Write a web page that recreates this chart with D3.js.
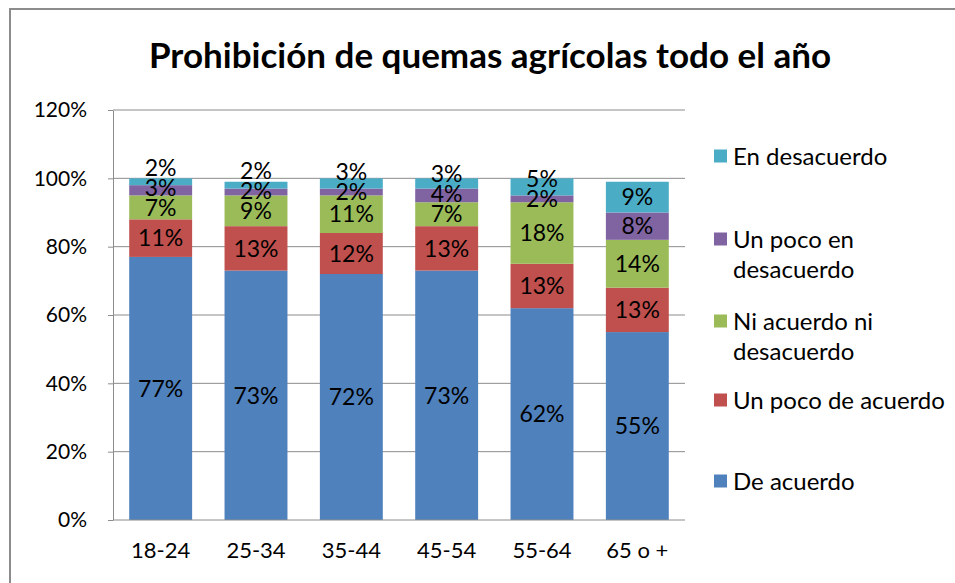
<!DOCTYPE html>
<html>
<head>
<meta charset="utf-8">
<script src="https://cdn.jsdelivr.net/npm/d3@7/dist/d3.min.js"></script>
<style>
  html, body { margin: 0; padding: 0; background: #fff; }
  svg { display: block; font-family: Lato, "Open Sans", sans-serif; }
</style>
</head>
<body>
<svg id="chart" width="955" height="583"></svg>
<script>
// Age groups on the x axis
const categories = ["18-24", "25-34", "35-44", "45-54", "55-64", "65 o +"];

// Share of respondents (%) per answer, stacked bottom to top
const deAcuerdo        = [77, 73, 72, 73, 62, 55];
const unPocoDeAcuerdo  = [11, 13, 12, 13, 13, 13];
const niAcuerdoNi      = [7, 9, 11, 7, 18, 14];
const unPocoEnDesac    = [3, 2, 2, 4, 2, 8];
const enDesacuerdo     = [2, 2, 3, 3, 5, 9];

const seriesNames = ["De acuerdo", "Un poco de acuerdo", "Ni acuerdo ni desacuerdo",
                     "Un poco en desacuerdo", "En desacuerdo"];
const seriesValues = [deAcuerdo, unPocoDeAcuerdo, niAcuerdoNi, unPocoEnDesac, enDesacuerdo];
const seriesColors = ["#4F81BD", "#C0504D", "#9BBB59", "#8064A2", "#4BACC6"];

const yTicks = [0, 20, 40, 60, 80, 100, 120];
const title = "Prohibición de quemas agrícolas todo el año";

const svg = d3.select("#chart");

// outer chart frame
svg.append("rect")
  .attr("x", 10).attr("y", 9)
  .attr("width", 960).attr("height", 600)
  .attr("fill", "none").attr("stroke", "#8c8c8c").attr("stroke-width", 2);

// title
svg.append("text")
  .attr("x", 490).attr("y", 68)
  .attr("text-anchor", "middle")
  .attr("font-weight", "bold")
  .attr("font-size", 35)
  .attr("fill", "#000")
  .text(title);

const plot = { left: 113, right: 685, top: 110, bottom: 520 };

const x = d3.scaleBand()
  .domain(categories)
  .range([plot.left, plot.right])
  .paddingInner(0.34)
  .paddingOuter(0.17);

const y = d3.scaleLinear()
  .domain([0, 120])
  .range([plot.bottom, plot.top]);

// horizontal gridlines
svg.append("g")
  .selectAll("line")
  .data(yTicks.filter(t => t > 0))
  .join("line")
  .attr("x1", plot.left).attr("x2", plot.right)
  .attr("y1", d => y(d)).attr("y2", d => y(d))
  .attr("stroke", "#8c8c8c").attr("stroke-width", 1);

// y axis
const yAxis = d3.axisLeft(y)
  .tickValues(yTicks)
  .tickFormat(d => d + "%")
  .tickSizeInner(5)
  .tickSizeOuter(0)
  .tickPadding(21);

const yg = svg.append("g")
  .attr("transform", `translate(${plot.left},0)`)
  .call(yAxis);
yg.select(".domain").attr("stroke", "#8c8c8c");
yg.selectAll(".tick line").attr("stroke", "#8c8c8c");
yg.selectAll(".tick text")
  .attr("font-family", "Lato, sans-serif")
  .attr("font-size", 21)
  .attr("fill", "#000");

// stacked data
const rows = categories.map((c, i) => {
  const r = { cat: c };
  seriesNames.forEach((s, j) => r[s] = seriesValues[j][i]);
  return r;
});
const stacked = d3.stack().keys(seriesNames)(rows);

const layers = svg.append("g")
  .selectAll("g")
  .data(stacked)
  .join("g")
  .attr("fill", (d, i) => seriesColors[i]);

layers.selectAll("rect")
  .data(d => d)
  .join("rect")
  .attr("x", d => x(d.data.cat))
  .attr("width", x.bandwidth())
  .attr("y", d => y(d[1]))
  .attr("height", d => y(d[0]) - y(d[1]));

// x axis baseline
svg.append("line")
  .attr("x1", plot.left).attr("x2", plot.right)
  .attr("y1", plot.bottom).attr("y2", plot.bottom)
  .attr("stroke", "#8c8c8c").attr("stroke-width", 1);

// category labels
const xAxis = d3.axisBottom(x).tickSize(0).tickPadding(22);
const xg = svg.append("g")
  .attr("transform", `translate(0,${plot.bottom})`)
  .call(xAxis);
xg.select(".domain").remove();
xg.selectAll(".tick text")
  .attr("font-family", "Lato, sans-serif")
  .attr("font-size", 22)
  .attr("fill", "#000");

// value labels, centred in each segment; small top segments pushed up to avoid overlap
const minGap = 20;
categories.forEach((c, i) => {
  let prevY = Infinity;
  stacked.forEach((layer, j) => {
    const seg = layer[i];
    let cy = (y(seg[0]) + y(seg[1])) / 2;
    if (cy > prevY - minGap) cy = prevY - minGap;
    prevY = cy;
    svg.append("text")
      .attr("x", x(c) + x.bandwidth() / 2)
      .attr("y", cy)
      .attr("dy", "0.36em")
      .attr("text-anchor", "middle")
      .attr("font-size", 23)
      .attr("fill", "#000")
      .text(seriesValues[j][i] + "%");
  });
});

// legend (top entry first)
const legendItems = [
  { name: "En desacuerdo", lines: ["En desacuerdo"], color: seriesColors[4], y: 156 },
  { name: "Un poco en desacuerdo", lines: ["Un poco en", "desacuerdo"], color: seriesColors[3], y: 239 },
  { name: "Ni acuerdo ni desacuerdo", lines: ["Ni acuerdo ni", "desacuerdo"], color: seriesColors[2], y: 321 },
  { name: "Un poco de acuerdo", lines: ["Un poco de acuerdo"], color: seriesColors[1], y: 400 },
  { name: "De acuerdo", lines: ["De acuerdo"], color: seriesColors[0], y: 481 }
];
const lg = svg.append("g");
legendItems.forEach(item => {
  lg.append("rect")
    .attr("x", 714).attr("y", item.y - 6.5)
    .attr("width", 13).attr("height", 13)
    .attr("fill", item.color);
  const t = lg.append("text")
    .attr("x", 733).attr("y", item.y)
    .attr("font-size", 24)
    .attr("fill", "#000");
  item.lines.forEach((ln, k) => {
    t.append("tspan").attr("x", 733).attr("dy", k === 0 ? "0.36em" : 30).text(ln);
  });
});
</script>
</body>
</html>
